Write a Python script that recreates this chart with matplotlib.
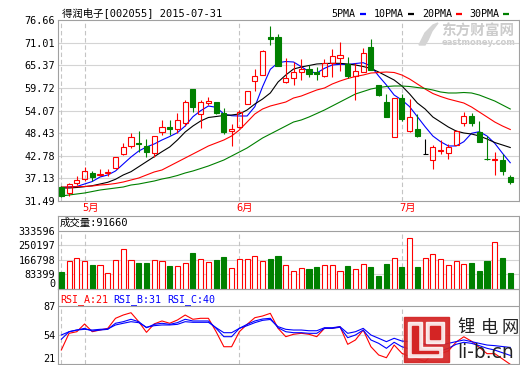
import numpy as np
import matplotlib.pyplot as plt
from matplotlib.patches import Rectangle, Polygon

W, H = 520, 365

# daily candles, 2015-04-28 .. 2015-07-31
opens = [35.00, 33.34, 35.85, 36.85, 38.50, 38.00, 38.43, 39.60, 43.11, 45.11,
         45.94, 45.11, 43.36, 48.57, 49.94, 49.37, 50.87, 59.46, 53.12, 56.03,
         56.13, 53.37, 48.87, 50.02, 55.63, 61.53, 62.96, 72.55, 72.55, 61.13,
         62.14, 63.79, 64.47, 63.79, 62.79, 66.04, 67.14, 65.72, 62.71, 63.70,
         70.05, 60.46, 56.28, 47.52, 57.13, 49.02, 49.37, 43.11, 41.68, 44.01,
         43.36, 45.44, 50.87, 52.70, 48.77, 41.93, 41.68, 41.68, 37.35]
highs = [35.20, 36.00, 37.67, 39.85, 38.93, 39.35, 39.55, 42.55, 46.06, 48.44,
         49.02, 46.86, 47.69, 51.70, 51.70, 53.37, 56.70, 59.46, 56.70, 57.53,
         56.20, 54.63, 50.70, 54.20, 58.96, 64.39, 69.22, 75.23, 73.23, 67.22,
         66.29, 66.97, 65.47, 65.04, 67.00, 69.40, 71.23, 67.47, 65.89, 69.65,
         71.90, 60.46, 58.20, 57.28, 58.20, 56.88, 53.20, 46.86, 45.44, 46.69,
         45.61, 49.19, 53.78, 53.53, 51.45, 47.69, 43.70, 43.06, 37.92]
lows = [32.50, 32.67, 35.42, 36.50, 36.50, 37.75, 37.68, 39.43, 42.81, 44.81,
        43.70, 42.50, 42.36, 47.94, 47.94, 48.37, 50.20, 53.78, 49.62, 55.45,
        53.12, 48.19, 45.19, 49.80, 55.63, 58.96, 62.96, 70.48, 65.22, 60.88,
        60.46, 61.71, 62.47, 61.71, 62.54, 62.34, 64.09, 62.14, 56.70, 63.70,
        64.21, 57.70, 52.37, 47.52, 51.45, 48.77, 47.52, 43.11, 39.35, 43.11,
        41.86, 45.44, 50.20, 50.20, 46.11, 41.68, 37.92, 37.92, 35.67]
closes = [32.67, 35.60, 36.60, 38.93, 37.50, 38.10, 38.68, 42.36, 44.86, 47.44,
          45.81, 43.76, 47.62, 49.94, 49.44, 51.70, 56.13, 54.87, 56.13, 56.53,
          53.52, 48.77, 49.37, 53.62, 58.96, 62.79, 68.97, 71.90, 65.29, 62.14,
          63.64, 64.47, 63.09, 63.21, 65.97, 67.72, 67.97, 62.79, 63.96, 68.39,
          64.21, 57.95, 52.52, 57.28, 51.87, 52.37, 47.62, 43.11, 44.86, 44.19,
          44.86, 49.02, 52.70, 50.87, 46.11, 41.81, 41.86, 39.00, 36.25]
volumes = [99000, 160200, 175700, 160200, 137300, 137300, 89800, 165900, 227200, 165900,
           150500, 150500, 165900, 160200, 131600, 131600, 150500, 207700, 171700, 152800,
           165900, 184800, 118400, 171700, 171700, 188800, 160200, 171700, 188800, 137300,
           103000, 118400, 114400, 127600, 137300, 137300, 103000, 131600, 112700, 141300,
           127600, 74400, 143100, 175700, 127600, 290100, 127600, 175700, 200300, 169900,
           137300, 160200, 143100, 150500, 103000, 160200, 267200, 179100, 91660]

ma5 = [34.80, 34.92, 35.05, 35.67, 36.30, 37.42, 37.93, 38.93, 40.68, 42.43,
       43.93, 44.94, 45.69, 46.69, 47.56, 48.52, 50.19, 52.52, 54.02, 55.20,
       54.88, 53.20, 52.77, 52.70, 52.70, 55.03, 60.03, 64.39, 66.04, 66.34,
       66.22, 65.04, 63.84, 63.46, 64.64, 65.47, 65.64, 65.59, 65.84, 66.04,
       65.22, 62.71, 60.46, 57.95, 56.70, 55.03, 52.52, 50.02, 47.69, 46.26,
       45.19, 45.19, 46.26, 48.37, 48.77, 47.69, 45.86, 43.36, 41.00]
ma10 = [34.67, 34.67, 34.80, 35.00, 35.25, 35.67, 36.10, 36.85, 37.93, 38.75,
        40.00, 41.26, 42.51, 43.76, 44.94, 46.69, 48.69, 50.19, 51.45, 52.32,
        52.57, 52.82, 52.95, 53.20, 54.20, 55.70, 56.95, 58.46, 61.21, 62.96,
        64.46, 64.97, 65.34, 65.72, 65.84, 65.89, 65.89, 65.72, 65.47, 65.09,
        64.59, 63.71, 62.71, 61.71, 60.21, 58.21, 55.95, 54.45, 52.45, 51.19,
        49.94, 48.94, 48.44, 48.19, 47.69, 46.94, 46.06, 45.44, 44.81]
ma20 = [34.92, 34.92, 35.00, 35.05, 35.17, 35.42, 35.55, 35.80, 36.17, 36.67,
        37.17, 37.93, 38.68, 39.18, 40.18, 41.18, 42.18, 43.18, 44.18, 45.19,
        45.94, 46.69, 47.69, 49.19, 51.19, 53.20, 54.45, 55.20, 55.70, 56.20,
        57.20, 57.70, 58.46, 59.21, 59.71, 60.71, 61.46, 62.09, 62.59, 62.96,
        63.46, 63.59, 63.71, 63.59, 62.96, 61.96, 60.71, 59.46, 58.33, 57.58,
        56.95, 56.45, 55.95, 54.95, 53.70, 52.45, 51.19, 50.19, 49.32]
ma30 = [32.67, 32.92, 33.17, 33.42, 33.79, 34.17, 34.42, 34.67, 34.92, 35.42,
        35.67, 36.05, 36.42, 36.92, 37.30, 37.80, 38.43, 38.93, 39.55, 40.18,
        40.93, 41.68, 42.68, 43.68, 44.69, 45.94, 47.19, 48.19, 49.19, 50.19,
        51.19, 51.70, 52.45, 53.32, 54.20, 55.20, 56.20, 57.20, 58.21, 58.83,
        59.46, 59.83, 60.08, 60.21, 60.21, 60.08, 59.83, 59.58, 59.21, 58.71,
        58.46, 58.46, 58.58, 58.46, 57.95, 57.20, 56.45, 55.45, 54.45]

rsi_a = [37.1, 55.9, 57.7, 66.4, 57.7, 59.6, 61.5, 72.8, 76.5, 79.1,
         69.0, 57.0, 66.5, 69.8, 67.2, 70.9, 76.5, 71.7, 72.8, 72.8,
         57.7, 40.8, 40.8, 57.7, 66.0, 73.5, 75.4, 78.4, 61.5, 52.1,
         54.8, 55.9, 54.8, 52.1, 61.5, 61.5, 63.4, 43.5, 48.4, 59.6,
         40.8, 31.5, 28.4, 42.7, 33.4, 29.6, 27.0, 24.0, 33.0, 33.0,
         36.0, 46.0, 52.0, 47.0, 40.0, 33.0, 33.0, 27.0, 21.0]
rsi_b = [54.0, 57.7, 59.6, 61.5, 58.5, 59.6, 60.4, 67.2, 69.0, 71.7,
         69.0, 62.2, 66.0, 67.2, 66.0, 67.9, 71.7, 69.8, 69.8, 69.8,
         61.5, 52.1, 52.1, 61.5, 66.0, 69.8, 72.0, 72.8, 62.2, 57.7,
         56.6, 56.6, 55.9, 55.9, 61.5, 61.5, 62.7, 51.0, 54.0, 59.6,
         48.4, 44.6, 39.0, 45.8, 40.8, 38.2, 37.5, 36.3, 36.3, 36.3,
         39.0, 43.5, 45.8, 44.6, 42.0, 39.0, 37.0, 34.0, 31.0]
rsi_c = [49.2, 57.7, 59.6, 60.4, 59.6, 60.4, 60.8, 65.3, 67.2, 69.0,
         67.9, 62.7, 64.5, 65.3, 65.3, 66.0, 69.0, 68.3, 68.3, 68.3,
         62.2, 56.6, 56.6, 61.5, 64.5, 67.9, 70.5, 71.5, 63.4, 60.4,
         59.6, 59.6, 58.8, 58.8, 62.2, 62.2, 63.4, 55.9, 57.7, 61.5,
         54.0, 50.3, 46.5, 50.3, 47.2, 46.5, 45.8, 43.5, 42.7, 42.7,
         44.6, 46.5, 48.4, 46.5, 44.6, 42.7, 42.0, 41.0, 40.0]

price_ticks = [31.49, 37.13, 42.78, 48.43, 54.07, 59.72, 65.37, 71.01, 76.66]
vol_ticks = [0, 83399, 166798, 250197, 333596]
rsi_ticks = [21, 54, 87]
month_starts = [3, 23, 44]
month_labels = ['5月', '6月', '7月']
dash_marks = [0, 3, 23, 44]

RED, GREEN, BLUE = '#ff0000', '#008000', '#0000ff'
GRID, BORDER, DASH = '#d4d4d4', '#a0a0a0', '#c4c4c4'
MONO = 'DejaVu Sans Mono'
MIXED = ['DejaVu Sans Mono', 'Noto Sans CJK SC']
LW = 0.8

fig = plt.figure(figsize=(W / 100, H / 100), dpi=100)


def px_axes(x0, y0, x1, y1):
    return fig.add_axes([x0 / W, 1 - y1 / H, (x1 - x0) / W, (y1 - y0) / H])


# background layer for titles and legends
bg = fig.add_axes([0, 0, 1, 1])
bg.set_xlim(0, W)
bg.set_ylim(H, 0)
bg.axis('off')

n = len(closes)
x = np.arange(n)
o, h, l, c = map(np.array, (opens, highs, lows, closes))
bw = 0.66


def panel(rect, ticks, ylim):
    ax = px_axes(*rect)
    ax.patch.set_facecolor('none')
    ax.set_xlim(-0.43, 59.13)
    ax.set_ylim(*ylim)
    ax.set_xticks([])
    ax.set_yticks(ticks)
    ax.set_yticklabels([str(t) for t in ticks], family=MONO, fontsize=7.3)
    ax.tick_params(axis='y', length=0, pad=2)
    for s in ax.spines.values():
        s.set_color(BORDER)
        s.set_linewidth(LW)
    return ax


# price panel
ax = panel((58, 20.3, 519, 200.7), price_ticks, (31.49, 76.66))
ax.set_yticklabels(['%.2f' % t for t in price_ticks], family=MONO, fontsize=7.3)
for t in price_ticks[1:-1]:
    ax.axhline(t, color=GRID, lw=LW, zorder=0)
ax.vlines(dash_marks, 31.49, 76.66, color=DASH, lw=LW, linestyles=(0, (4, 2.5)), zorder=0.5)

ax.plot(x, ma5, color=BLUE, lw=LW, zorder=2)
ax.plot(x, ma10, color='black', lw=LW, zorder=2)
ax.plot(x, ma20, color=RED, lw=LW, zorder=2)
ax.plot(x, ma30, color=GREEN, lw=LW, zorder=2)

cols = np.where(o == c, 'black', np.where(c > o, RED, GREEN))
faces = np.where(c > o, 'none', cols)
top = np.maximum(o, c)
bot = np.minimum(o, c)
ax.vlines(x, top, h, colors=cols, lw=LW, zorder=3)
ax.vlines(x, l, bot, colors=cols, lw=LW, zorder=3)
ax.bar(x, top - bot, bottom=bot, width=bw, color=faces, edgecolor=cols, linewidth=LW, zorder=3)

for m, lab in zip(month_starts, month_labels):
    ax.text(m - 0.35, -0.041, lab, transform=ax.get_xaxis_transform(), color=RED,
            family=MIXED, fontsize=7.5, ha='left', va='center')

# volume panel
vtop = 333596 * (289 - 216) / (289 - 230.7)
av = panel((58, 216, 519, 289), vol_ticks, (0, vtop))
av.get_yticklabels()[0].set_va('bottom')
for t in vol_ticks[1:-1]:
    av.axhline(t, color=GRID, lw=LW, zorder=0)
av.axhline(vol_ticks[-1], color=BORDER, lw=LW, zorder=1)
av.vlines(dash_marks, 0, vol_ticks[-1], color=DASH, lw=LW, linestyles=(0, (4, 2.5)), zorder=0.5)
vcols = np.where(c >= o, RED, GREEN)
vfaces = np.where(c >= o, 'white', GREEN)
av.bar(x, volumes, width=bw, color=vfaces, edgecolor=vcols, linewidth=LW, zorder=3)

# RSI panel
rtop = 21 + 66 * (364.3 - 289) / (364.3 - 305.7)
ar = panel((58, 289, 519, 364.3), rsi_ticks, (21, rtop))
ar.get_yticklabels()[0].set_va('bottom')
ar.axhline(54, color=GRID, lw=LW, zorder=0)
ar.axhline(87, color=BORDER, lw=LW, zorder=1)
ar.vlines(dash_marks, 21, 87, color=DASH, lw=LW, linestyles=(0, (4, 2.5)), zorder=0.5)
ar.plot(x, rsi_a, color=RED, lw=LW, zorder=2, clip_on=False)
ar.plot(x, rsi_b, color=BLUE, lw=LW, zorder=2)
ar.plot(x, rsi_c, color=BLUE, lw=LW, zorder=2)

# texts
bg.text(61.7, 13, '得润电子[002055] 2015-07-31', family=MIXED, fontsize=7.5, va='center')
for lab, col, tx, dx in [('5PMA', BLUE, 331.7, 360), ('10PMA', 'black', 374, 408),
                         ('20PMA', RED, 422, 456), ('30PMA', GREEN, 469, 503)]:
    bg.text(tx, 14, lab, family=MONO, fontsize=7.2, va='center')
    bg.plot([dx, dx + 6], [14, 14], color=col, lw=1.6, solid_capstyle='butt')
# watermark of the quote provider
bg.add_patch(Polygon([(419, 45), (425, 33), (433, 25), (438, 23), (432, 31), (428, 40), (425, 45)],
                     closed=True, color='#d4d4d4'))
bg.text(441, 31, '东方财富网', color='#cccccc', fontsize=10.5, family='Noto Sans CJK SC',
        weight='bold', va='center')
bg.text(442, 42.5, 'eastmoney.com', color='#cccccc', fontsize=6.0, family='DejaVu Sans',
        weight='bold', va='center')
bg.text(60, 223, '成交量:91660', family=MIXED, fontsize=7.5, va='center')
bg.text(60, 300, 'RSI_A:21', family=MONO, fontsize=7.2, color=RED, va='center')
bg.text(113, 300, 'RSI_B:31', family=MONO, fontsize=7.2, color=BLUE, va='center')
bg.text(167, 300, 'RSI_C:40', family=MONO, fontsize=7.2, color=BLUE, va='center')

# site logo, bottom right
fg = fig.add_axes([0, 0, 1, 1])
fg.set_xlim(0, W)
fg.set_ylim(H, 0)
fg.axis('off')
fg.add_patch(Rectangle((404, 316.7), 45, 45, color='#d42424', alpha=0.92))
fg.add_patch(Polygon([(408, 321.5), (421.5, 321.5), (421.5, 346.5), (442, 346.5),
                      (442, 357), (408, 357)], closed=True, color='white', alpha=0.85))
fg.add_patch(Polygon([(412, 325.5), (417.5, 325.5), (417.5, 350.5), (438, 350.5),
                      (438, 353), (412, 353)], closed=True, color='#d42424'))
fg.add_patch(Rectangle((426, 321.5), 17.5, 21.5, color='white', alpha=0.85))
fg.add_patch(Rectangle((430, 325.5), 9.5, 13.5, color='#d42424'))
for cx, ch in zip([466.5, 490, 510], '锂电网'):
    fg.text(cx, 328, ch, family='Noto Sans CJK SC', fontsize=12.5, color='#222222',
            ha='center', va='center')
fg.text(457, 352, 'li-b.cn', family='DejaVu Sans', fontsize=13.5, color='#222222', va='center')

fig.savefig('out.png', dpi=100)
